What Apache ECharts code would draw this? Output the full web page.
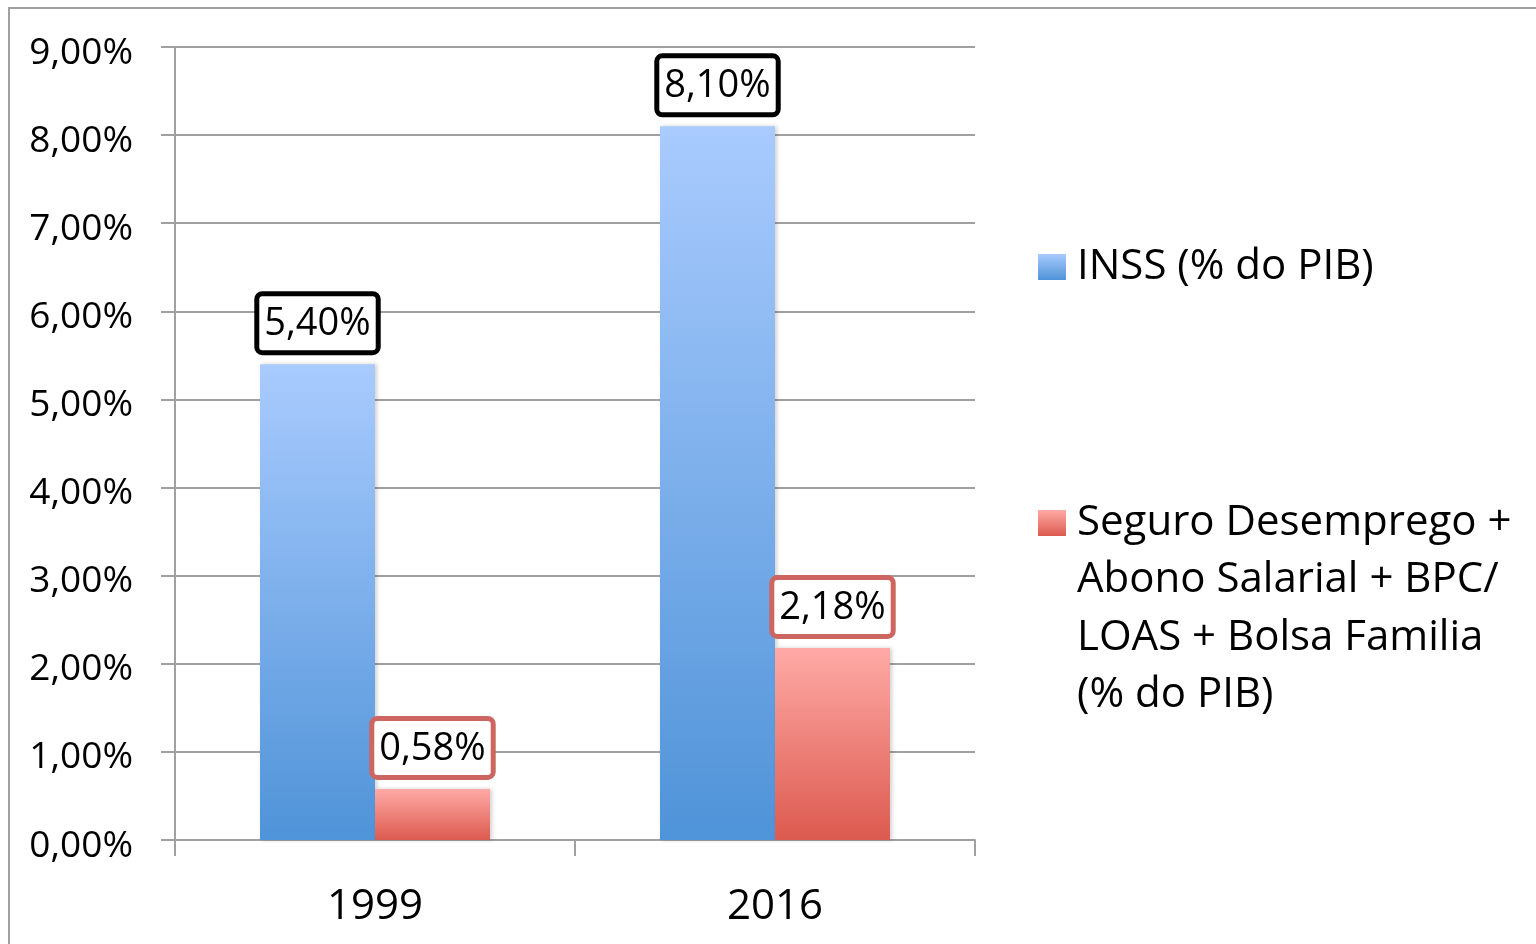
<!DOCTYPE html>
<html>
<head>
<meta charset="utf-8">
<script src="https://cdn.jsdelivr.net/npm/echarts@6/dist/echarts.min.js"></script>
<style>
html,body{margin:0;padding:0;background:#fff;}
#chart{width:1536px;height:944px;}
</style>
</head>
<body>
<div id="chart"></div>
<script>
// dados (% do PIB)
var years = ['1999', '2016'];
var inss = [5.40, 8.10];
var assist = [0.58, 2.18];
var seriesNames = ['INSS (% do PIB)', 'Seguro Desemprego + Abono Salarial + BPC/ LOAS + Bolsa Familia (% do PIB)'];
var legendLines = [
	['INSS (% do PIB)'],
	['Seguro Desemprego +', 'Abono Salarial + BPC/', 'LOAS + Bolsa Familia', '(% do PIB)']
];
var yTicks = {min: 0, max: 9, interval: 1};

var FONT = '"Open Sans", sans-serif';
var GRAY = '#a0a0a0';
var LEGEND_LH = 57.5;

function pct(v){
	return v.toFixed(2).replace('.', ',') + '%';
}
function vgrad(top, bottom){
	return new echarts.graphic.LinearGradient(0, 0, 0, 1, [
		{offset: 0, color: top},
		{offset: 1, color: bottom}
	]);
}
// legend text is centred on the icon; pad with empty lines on top so the
// icon sits on the first line, like the original
function legendText(name){
	var lines = legendLines[seriesNames.indexOf(name)];
	var pad = [];
	for(var i = 0; i < lines.length - 1; i++) pad.push('');
	return pad.concat(lines).join('\n');
}

var blue = vgrad('#a9cbfe', '#4f93d8');
var red = vgrad('#ffaaa6', '#dc5a4f');

var chart = echarts.init(document.getElementById('chart'), null, {renderer: 'canvas'});

var boxLabel = function(borderColor){
	return {
		show: true,
		position: 'top',
		distance: 14,
		formatter: function(p){ return pct(p.value); },
		fontFamily: FONT,
		fontSize: 38,
		color: '#000',
		backgroundColor: '#fff',
		borderColor: borderColor,
		borderWidth: 5,
		borderRadius: 3,
		lineHeight: 48,
		padding: [4, 5, 2, 5]
	};
};

var legendBase = {
	orient: 'vertical',
	left: 1038,
	padding: 0,
	itemWidth: 40,
	itemHeight: 26,
	icon: 'path://M0,0 L28,0 L28,26 L0,26 Z',
	formatter: legendText,
	textStyle: {fontFamily: FONT, fontSize: 42, lineHeight: LEGEND_LH, color: '#000'}
};

var option = {
	animation: false,
	textStyle: {fontFamily: FONT},
	graphic: [{
		type: 'rect',
		shape: {x: 9, y: 8, width: 1600, height: 1000},
		style: {fill: 'none', stroke: GRAY, lineWidth: 2},
		silent: true
	}],
	grid: {left: 175, right: 561, top: 47, bottom: 104},
	legend: [
		Object.assign({}, legendBase, {top: 267 - LEGEND_LH / 2, data: [seriesNames[0]]}),
		Object.assign({}, legendBase, {top: 523 - 3.5 * LEGEND_LH, data: [seriesNames[1]]})
	],
	xAxis: {
		type: 'category',
		data: years,
		axisLine: {lineStyle: {color: GRAY, width: 2}},
		axisTick: {show: true, length: 16, lineStyle: {color: GRAY, width: 2}},
		axisLabel: {fontFamily: FONT, fontSize: 42, color: '#000', margin: 46}
	},
	yAxis: {
		type: 'value',
		min: yTicks.min,
		max: yTicks.max,
		interval: yTicks.interval,
		axisLine: {show: true, lineStyle: {color: GRAY, width: 2}},
		axisTick: {show: true, length: 14, lineStyle: {color: GRAY, width: 2}},
		splitLine: {lineStyle: {color: GRAY, width: 2}},
		axisLabel: {
			fontFamily: FONT, fontSize: 37, color: '#000', margin: 42,
			verticalAlign: 'top', lineHeight: 12,
			formatter: pct
		}
	},
	series: [{
		name: seriesNames[0],
		type: 'bar',
		data: inss,
		barGap: 0,
		barCategoryGap: '42.5%',
		itemStyle: {color: blue, shadowColor: 'rgba(0,0,0,0.18)', shadowBlur: 4, shadowOffsetX: 2},
		label: boxLabel('#000')
	}, {
		name: seriesNames[1],
		type: 'bar',
		data: assist,
		barGap: 0,
		barCategoryGap: '42.5%',
		itemStyle: {color: red, shadowColor: 'rgba(0,0,0,0.18)', shadowBlur: 4, shadowOffsetX: 2},
		label: boxLabel('#cd6660')
	}]
};

chart.setOption(option);
</script>
</body>
</html>
